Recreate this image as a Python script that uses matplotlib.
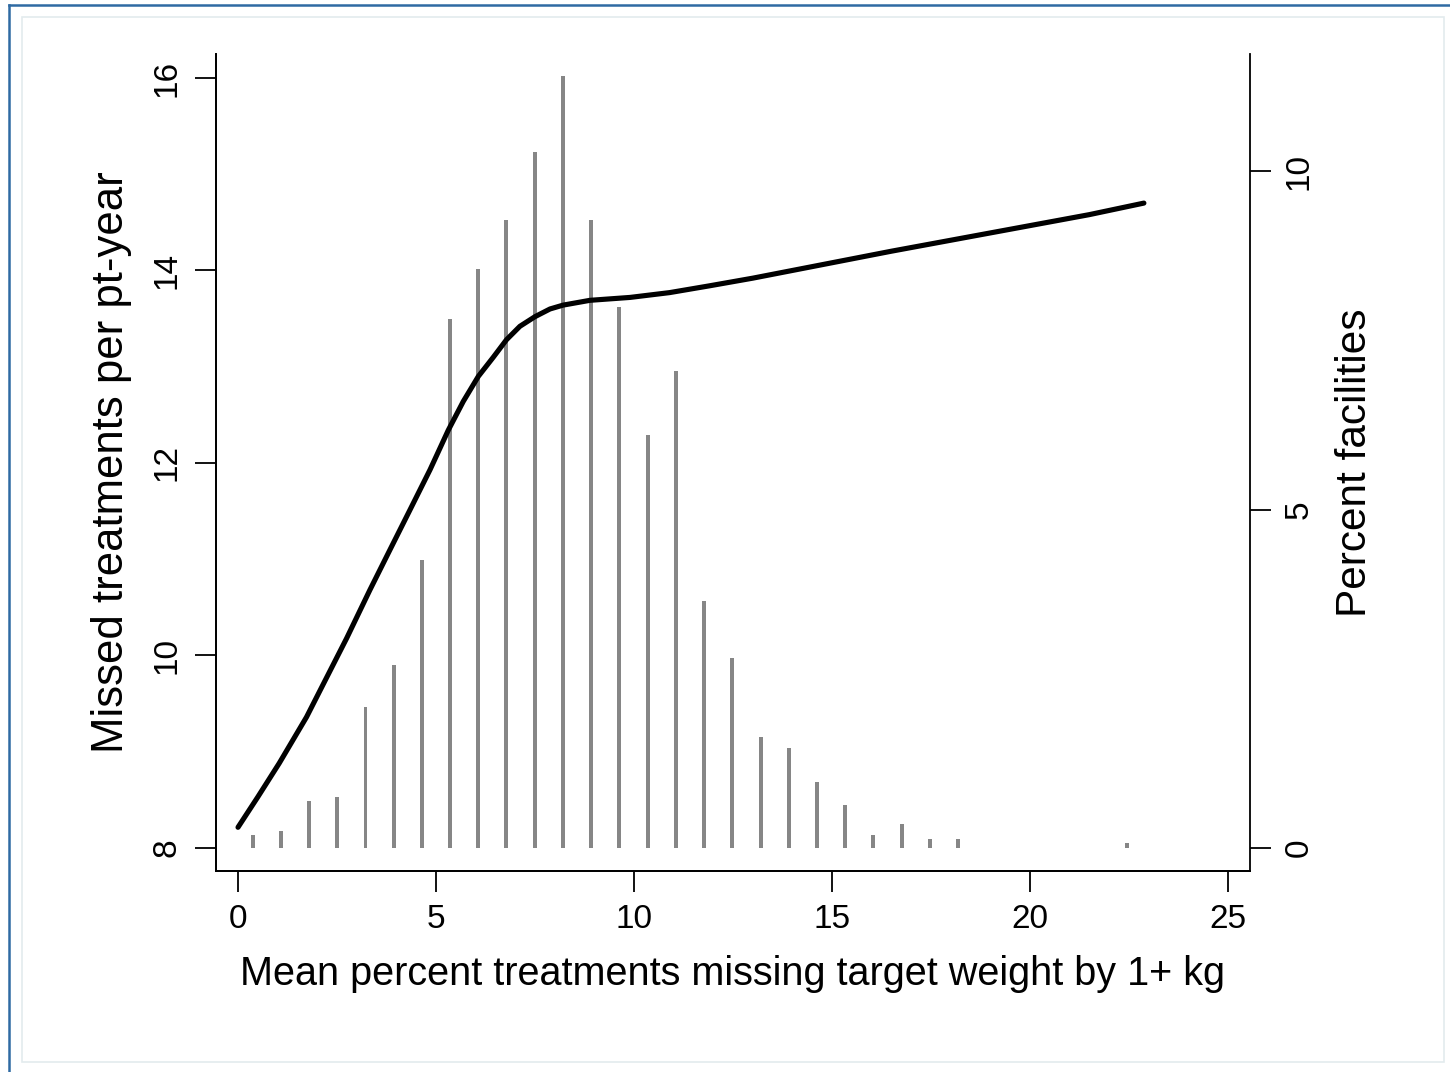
import matplotlib
matplotlib.use('Agg')
import matplotlib.pyplot as plt
from matplotlib.patches import Rectangle
from matplotlib.lines import Line2D

plt.rcParams['font.family'] = ['Liberation Sans', 'DejaVu Sans']

# histogram: bin centres and percent of facilities
bin_x = [0.37, 1.08, 1.80, 2.51, 3.22, 3.93, 4.65, 5.36, 6.07, 6.78, 7.50, 8.21,
         8.92, 9.63, 10.35, 11.06, 11.77, 12.48, 13.20, 13.91, 14.62, 15.33,
         16.05, 16.76, 17.47, 18.18, 22.46]
pct_fac = [0.19, 0.25, 0.70, 0.75, 2.08, 2.70, 4.26, 7.82, 8.56, 9.28, 10.28, 11.40,
           9.28, 7.99, 6.10, 7.04, 3.65, 2.81, 1.64, 1.48, 0.98, 0.64,
           0.19, 0.36, 0.14, 0.14, 0.08]

# smoothed fit: missed treatments per pt-year
fit_x = [0, 0.5, 1.04, 1.73, 2.2, 2.745, 3.33, 3.84, 4.34, 4.85, 5.31, 5.69,
         6.07, 6.45, 6.78, 7.12, 7.50, 7.88, 8.21, 8.89, 9.90, 10.9, 11.9, 13.0,
         14.5, 16.5, 19.0, 21.5, 22.88]
fit_y = [8.215, 8.53, 8.88, 9.36, 9.74, 10.18, 10.68, 11.10, 11.51, 11.93, 12.34,
         12.64, 12.90, 13.10, 13.28, 13.42, 13.52, 13.60, 13.64, 13.69, 13.72,
         13.77, 13.84, 13.92, 14.04, 14.20, 14.39, 14.58, 14.70]

W, H = 1450, 1072
fig = plt.figure(figsize=(W / 100, H / 100), dpi=100)

# outer frame like the Stata graph window
fig.patches.append(Rectangle((22 / W, 1 - 1062 / H), 1422 / W, 1045 / H,
                             transform=fig.transFigure, fill=False,
                             edgecolor='#e3ebee', linewidth=1.2))
fig.lines.append(Line2D([9 / W, 9 / W], [0, 1 - 5 / H], transform=fig.transFigure,
                        color='#2f6aa3', linewidth=1.8))
fig.lines.append(Line2D([9 / W, 1], [1 - 5 / H, 1 - 5 / H], transform=fig.transFigure,
                        color='#2f6aa3', linewidth=1.8))

ax = fig.add_axes([216 / W, 1 - 871 / H, 1034 / W, 817 / H])
ax2 = ax.twinx()

ax2.bar(bin_x, pct_fac, width=0.1, color='#868686', zorder=1)
ax.plot(fit_x, fit_y, color='black', linewidth=3.7, solid_capstyle='round',
        solid_joinstyle='round', zorder=3)

ax.set_zorder(ax2.get_zorder() + 1)
ax.patch.set_visible(False)

ax.set_xlim(-0.556, 25.56)
ax.set_ylim(7.761, 16.249)
ax2.set_ylim(-0.34, 11.73)

ax.set_xticks([0, 5, 10, 15, 20, 25])
ax.set_yticks([8, 10, 12, 14, 16])
ax2.set_yticks([0, 5, 10])

for a in (ax, ax2):
    a.spines['top'].set_visible(False)
    for s in a.spines.values():
        s.set_linewidth(1.3)
ax.spines['right'].set_visible(False)

ax.tick_params(axis='both', direction='out', length=15, width=1.3,
               labelsize=24, pad=9)
ax2.tick_params(axis='y', direction='out', length=15, width=1.3,
                labelsize=24, pad=9)
for lab in ax.get_yticklabels():
    lab.set_rotation(90)
    lab.set_va('center')
for lab in ax2.get_yticklabels():
    lab.set_rotation(90)
    lab.set_va('center')

ax.set_xlabel('Mean percent treatments missing target weight by 1+ kg',
              fontsize=28.5, labelpad=14)
ax.set_ylabel('Missed treatments per pt-year', fontsize=31.5, labelpad=14)
ax2.set_ylabel('Percent facilities', fontsize=30.5, labelpad=15)

fig.savefig('out.png', dpi=100, facecolor='white')
